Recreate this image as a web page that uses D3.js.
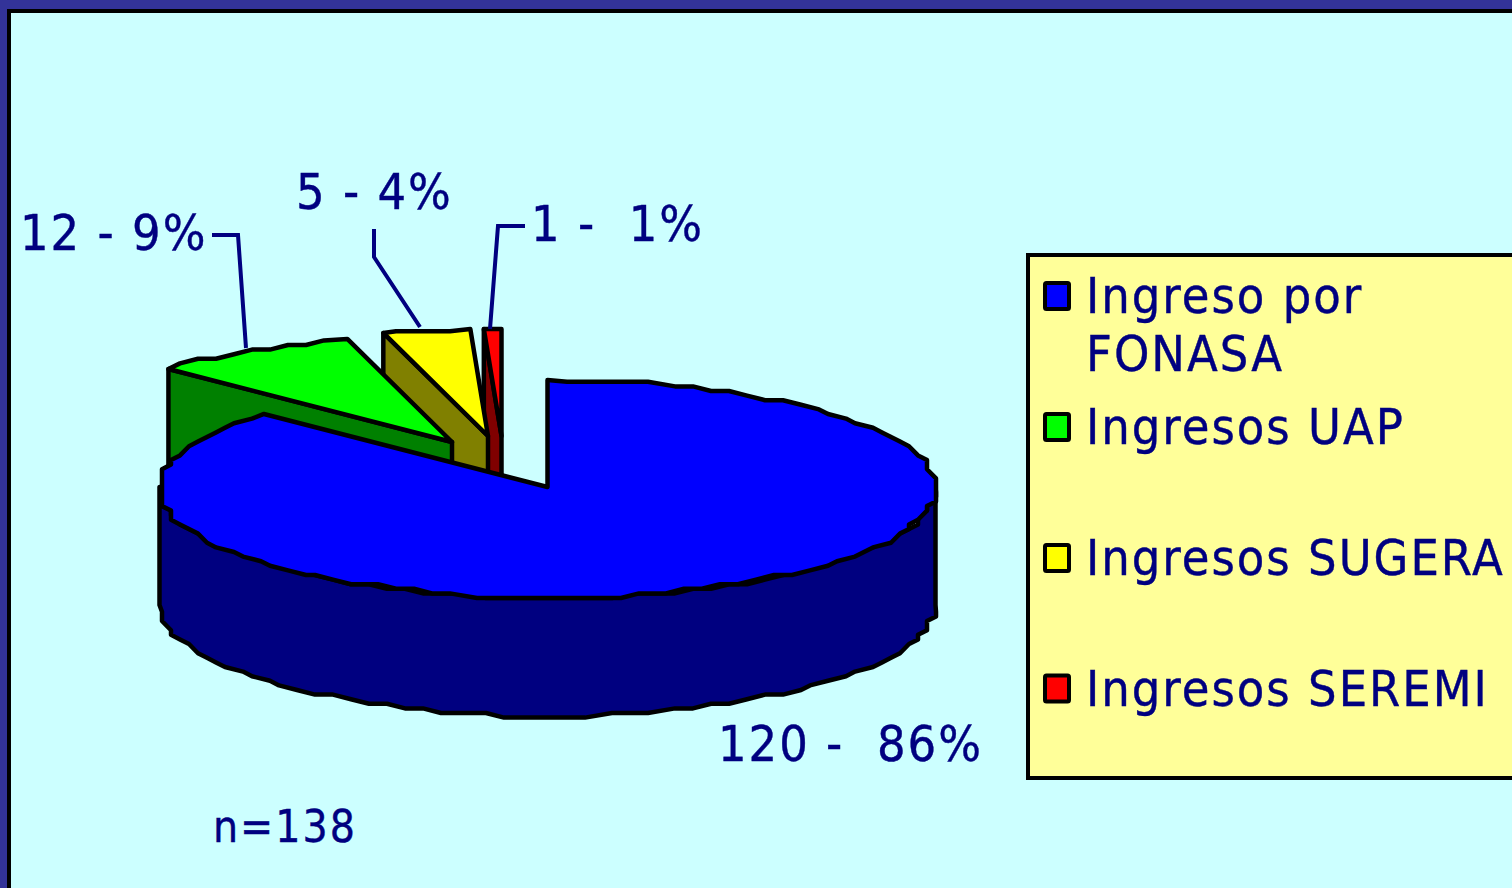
<!DOCTYPE html>
<html lang="es">
<head>
<meta charset="UTF-8">
<title>Ingresos</title>
<script src="https://d3js.org/d3.v7.min.js"></script>
<style>
  * { margin: 0; padding: 0; box-sizing: border-box; }
  body { background: #ccffff; overflow: hidden; }
  svg { display: block; }
  text { font-family: "DejaVu Sans Condensed", "DejaVu Sans", sans-serif; font-stretch: condensed; fill: #000080; stroke: #000080; stroke-width: 0.4px; white-space: pre; letter-spacing: 2px; }
</style>
</head>
<body>
<svg width="1512" height="888"></svg>
<script>
const categories = ["Ingreso por FONASA", "Ingresos UAP", "Ingresos SUGERA", "Ingresos SEREMI"];
const values = [120, 12, 5, 1];
const percents = [86, 9, 4, 1];
const total = 138;
const labelGaps = ["  ", " ", " ", "  "];
const topColors = ["#0000ff", "#00ff00", "#ffff00", "#ff0000"];
const wallColors = ["#000080", "#008000", "#808000", "#800000"];

const svg = d3.select("svg");
const W = 1512, H = 888;
const FS = 50;

// frame
svg.append("rect").attr("width", W).attr("height", H).attr("fill", "#333399");
svg.append("rect").attr("x", 7).attr("y", 9).attr("width", W).attr("height", H).attr("fill", "#000");
svg.append("rect").attr("x", 11).attr("y", 13).attr("width", W).attr("height", H).attr("fill", "#ccffff");

// pie projection, tilted ellipse
const RX = 388, RY_BACK = 107, RY_FRONT = 111, DEPTH = 118;
const scaleX = d3.scaleLinear().domain([-1, 1]).range([-RX, RX]);
const scaleYBack = d3.scaleLinear().domain([0, 1]).range([0, -RY_BACK]);
const scaleYFront = d3.scaleLinear().domain([-1, 0]).range([RY_FRONT, 0]);

// apex of each slice on screen; slices 2-4 are pulled out of the pie
const apexes = [[547.5, 487], [452, 442], [488, 436], [501.5, 436]];

const pie = d3.pie().sort(null).startAngle(0).endAngle(2 * Math.PI)(values);

function rim(a) {
  const c = Math.cos(a);
  return [scaleX(Math.sin(a)), c >= 0 ? scaleYBack(c) : scaleYFront(c)];
}

// the original is a low-res metafile, its curves sit on a coarse grid
const GX = 9, GY = 4.6, STEP = 0.055;
function arcPts(cx, cy, a0, a1, dy = 0) {
  const n = Math.max(1, Math.ceil(Math.abs(a1 - a0) / STEP));
  const pts = d3.range(n + 1).map(i => {
    const [x, y] = rim(a0 + (a1 - a0) * i / n);
    const px = cx + x, py = cy + y + dy;
    if (i === 0 || i === n) return [px, py];
    return [Math.round(px / GX) * GX, Math.round(py / GY) * GY];
  });
  return pts;
}
const line = d3.line();
function poly(g, pts, fill) {
  g.append("path").attr("d", line(pts) + "Z").attr("fill", fill)
    .attr("stroke", "#000").attr("stroke-width", 4.5).attr("stroke-linejoin", "round");
}

const chart = svg.append("g");

// back slices first, red to green, blue on top of all
[3, 2, 1].forEach(i => {
  const s = pie[i], [cx, cy] = apexes[i];
  const p0 = rim(s.startAngle);
  const start = [cx + p0[0], cy + p0[1]];
  poly(chart, [start, [cx, cy], [cx, cy + DEPTH], [start[0], start[1] + DEPTH]], wallColors[i]);
  poly(chart, [[cx, cy], ...arcPts(cx, cy, s.startAngle, s.endAngle)], topColors[i]);
});

// blue: front wall, then top
const blue = pie[0], [bx, by] = apexes[0];
const wallTop = arcPts(bx, by, Math.PI / 2, 3 * Math.PI / 2);
const wallBottom = arcPts(bx, by, 3 * Math.PI / 2, Math.PI / 2, DEPTH);
poly(chart, [...wallTop, ...wallBottom], wallColors[0]);
poly(chart, [[bx, by], ...arcPts(bx, by, blue.startAngle, blue.endAngle)], topColors[0]);

// leader lines
const leaders = [
  [[212, 235], [238, 235], [246, 348]],
  [[374, 229], [374, 257], [420, 327]],
  [[525, 226], [498, 226], [490, 329]]
];
leaders.forEach(l => svg.append("path").attr("d", line(l)).attr("fill", "none")
  .attr("stroke", "#000080").attr("stroke-width", 4));

// data labels
const labelPos = [[718, 761], [20, 250], [296, 209], [531, 241]];
values.forEach((v, i) => {
  svg.append("text").attr("x", labelPos[i][0]).attr("y", labelPos[i][1]).attr("font-size", FS)
    .text(v + " -" + labelGaps[i] + percents[i] + "%");
});
svg.append("text").attr("x", 213).attr("y", 842).attr("font-size", 44).text("n=" + total);

// legend
svg.append("rect").attr("x", 1028).attr("y", 255).attr("width", 520).attr("height", 523)
  .attr("fill", "#ffff99").attr("stroke", "#000").attr("stroke-width", 4);
const legendY = [296, 427, 558, 688.5];
const legendLines = [["Ingreso por", "FONASA"], ["Ingresos UAP"], ["Ingresos SUGERA"], ["Ingresos SEREMI"]];
categories.forEach((c, i) => {
  svg.append("rect").attr("x", 1045).attr("y", legendY[i] - 13).attr("width", 24).attr("height", 26).attr("rx", 1.5)
    .attr("fill", topColors[i]).attr("stroke", "#000").attr("stroke-width", 4);
  legendLines[i].forEach((t, j) => {
    svg.append("text").attr("x", 1086).attr("y", legendY[i] + 17 + j * 58).attr("font-size", FS).text(t);
  });
});
</script>
</body>
</html>
